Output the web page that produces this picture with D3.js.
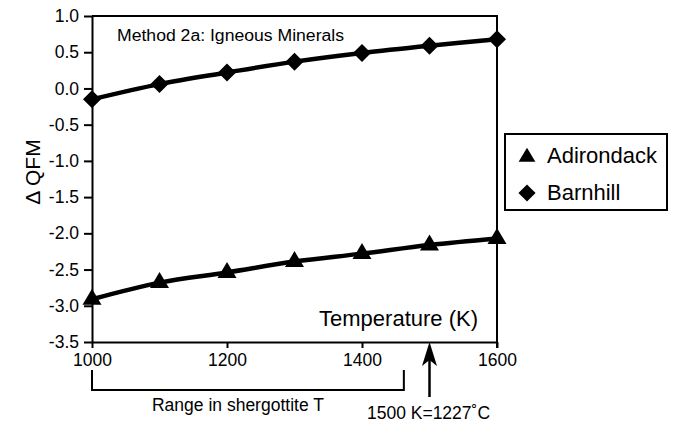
<!DOCTYPE html>
<html>
<head>
<meta charset="utf-8">
<script src="https://cdn.jsdelivr.net/npm/d3@7"></script>
<style>
    body { margin: 0; background: #fff; }
    svg { display: block; font-family: "Liberation Sans", Arial, sans-serif; }
</style>
</head>
<body>
<div id="chart"></div>
<script>
// --- Data ---
const temperatures = [1000, 1100, 1200, 1300, 1400, 1500, 1600];
const adirondack = [-2.91, -2.68, -2.54, -2.39, -2.28, -2.16, -2.07];
const barnhill = [-0.15, 0.06, 0.22, 0.37, 0.49, 0.59, 0.68];
const seriesNames = ["Adirondack", "Barnhill"];
const yTicks = [-3.5, -3.0, -2.5, -2.0, -1.5, -1.0, -0.5, 0.0, 0.5, 1.0];
const xTicks = [1000, 1200, 1400, 1600];
const shergottiteRange = [1000, 1462];
const arrowT = 1500;

const width = 675;
const height = 425;
const margin = { top: 16, right: 178, bottom: 83, left: 92 };

const svg = d3.select("#chart").append("svg")
    .attr("width", width)
    .attr("height", height);

svg.append("rect").attr("width", width).attr("height", height).attr("fill", "#fff");

const x = d3.scaleLinear()
    .domain([1000, 1600])
    .range([margin.left, width - margin.right]);

const y = d3.scaleLinear()
    .domain([-3.5, 1.0])
    .range([height - margin.bottom, margin.top]);

// Axes
const yAxis = svg.append("g")
    .attr("transform", `translate(${margin.left},0)`)
    .call(d3.axisLeft(y).tickValues(yTicks).tickSize(8).tickSizeOuter(0).tickPadding(5)
        .tickFormat(d => d.toFixed(1)));

const xAxis = svg.append("g")
    .attr("transform", `translate(0,${height - margin.bottom})`)
    .call(d3.axisBottom(x).tickValues(xTicks).tickSize(6).tickSizeOuter(0).tickPadding(6)
        .tickFormat(d3.format("d")));

[yAxis, xAxis].forEach(a => {
    a.selectAll("path, line").attr("stroke", "#000").attr("stroke-width", 2);
    a.selectAll("text").attr("fill", "#000").attr("font-size", 17.5)
        .attr("font-family", "'Liberation Sans', Arial, sans-serif");
});

// Top and right frame
svg.append("path")
    .attr("d", `M${x(1000)},${y(1.0)} H${x(1600)} V${y(-3.5) + 6}`)
    .attr("fill", "none")
    .attr("stroke", "#000")
    .attr("stroke-width", 2);

// Series
const line = d3.line()
    .x((d, i) => x(temperatures[i]))
    .y(d => y(d))
    .curve(d3.curveCatmullRom.alpha(0.5));

const triangle = "M0,-10.5L9.5,5.5L-9.5,5.5Z";
const diamond = "M0,-9L9,0L0,9L-9,0Z";

const series = [
    { name: seriesNames[0], values: adirondack, shape: triangle },
    { name: seriesNames[1], values: barnhill, shape: diamond }
];

series.forEach(s => {
    svg.append("path")
        .attr("d", line(s.values))
        .attr("fill", "none")
        .attr("stroke", "#000")
        .attr("stroke-width", 4.5);

    svg.append("g")
        .selectAll("path")
        .data(s.values)
        .join("path")
        .attr("transform", (d, i) => `translate(${x(temperatures[i])},${y(d)})`)
        .attr("d", s.shape)
        .attr("fill", "#000");
});

// Labels
svg.append("text")
    .attr("x", 117)
    .attr("y", 40.5)
    .attr("font-size", 16)
    .attr("textLength", 227)
    .attr("lengthAdjust", "spacingAndGlyphs")
    .text("Method 2a: Igneous Minerals");

svg.append("text")
    .attr("x", 478)
    .attr("y", 326)
    .attr("text-anchor", "end")
    .attr("font-size", 22)
    .text("Temperature (K)");

svg.append("text")
    .attr("transform", `translate(40,172) rotate(-90)`)
    .attr("text-anchor", "middle")
    .attr("font-size", 21)
    .text("Δ QFM");

// Shergottite range bracket
svg.append("path")
    .attr("d", `M${x(shergottiteRange[0])},370 V390 H${x(shergottiteRange[1])} V370`)
    .attr("fill", "none")
    .attr("stroke", "#000")
    .attr("stroke-width", 2);

svg.append("text")
    .attr("x", (x(shergottiteRange[0]) + x(shergottiteRange[1])) / 2 - 10)
    .attr("y", 411)
    .attr("text-anchor", "middle")
    .attr("font-size", 17.5)
    .text("Range in shergottite T");

// Arrow at 1500 K
const ax = x(arrowT);
const ay = y(-3.5);
svg.append("line")
    .attr("x1", ax).attr("x2", ax)
    .attr("y1", ay + 15).attr("y2", ay + 55)
    .attr("stroke", "#000")
    .attr("stroke-width", 2.5);

svg.append("path")
    .attr("transform", `translate(${ax},${ay})`)
    .attr("d", "M0,0L7.5,24L0,18L-7.5,24Z")
    .attr("fill", "#000");

svg.append("text")
    .attr("x", ax - 1)
    .attr("y", 419)
    .attr("text-anchor", "middle")
    .attr("font-size", 17.5)
    .text("1500 K=1227˚C");

// Legend
const legend = svg.append("g").attr("transform", "translate(505,134)");
legend.append("rect")
    .attr("width", 162)
    .attr("height", 76)
    .attr("fill", "#fff")
    .attr("stroke", "#000")
    .attr("stroke-width", 2);

const legendItems = legend.selectAll("g.item")
    .data(series)
    .join("g")
    .attr("class", "item")
    .attr("transform", (d, i) => `translate(0,${i === 0 ? 22 : 59})`);

legendItems.append("path")
    .attr("transform", (d, i) => `translate(22,${i === 0 ? 1 : 0}) scale(${i === 0 ? 0.88 : 0.95})`)
    .attr("d", d => d.shape)
    .attr("fill", "#000");

legendItems.append("text")
    .attr("x", 42)
    .attr("y", 6.5)
    .attr("font-size", 22)
    .text(d => d.name);
</script>
</body>
</html>
